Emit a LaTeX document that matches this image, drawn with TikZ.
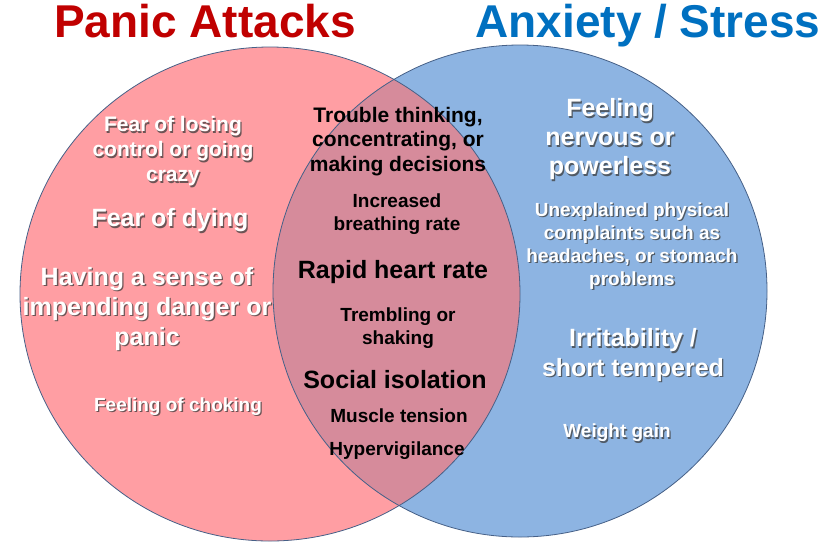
\documentclass[tikz,border=0pt]{standalone}
\usepackage{fontspec}
\setmainfont{Liberation Sans}
\definecolor{redfill}{RGB}{255,158,163}
\definecolor{bluefill}{RGB}{141,180,226}
\definecolor{lensfill}{RGB}{214,139,155}
\definecolor{edgec}{RGB}{70,96,135}
\definecolor{titlered}{RGB}{192,0,0}
\definecolor{titleblue}{RGB}{0,112,192}
\definecolor{shadowc}{RGB}{60,60,60}
\tikzset{
  txt/.style={inner sep=0pt, align=center},
  sz/.style n args={2}{font=\fontsize{#1}{#2}\selectfont\bfseries},
  wt/.style={txt, text=white},
  sh/.style={txt, text=shadowc, text opacity=0.75, xshift=1.3pt, yshift=-1.3pt},
  bt/.style={txt, text=black},
  title/.style={inner sep=0pt, anchor=base, font=\fontsize{46}{50}\selectfont\bfseries},
  circ/.style={draw=edgec, line width=0.8pt},
}
\newcommand\shadnode[4]{%
  \node[sh,#3] (#1s) at (#2) {#4};
  \node[wt,#3] (#1) at (#2) {#4};}
\begin{document}
\begin{tikzpicture}[x=1pt,y=-1pt]
\useasboundingbox (0,0) rectangle (827,550);
% circles
\fill[redfill] (270,294) ellipse [x radius=250pt, y radius=247pt];
\fill[bluefill] (520,291) ellipse [x radius=247pt, y radius=246pt];
\begin{scope}
  \clip (270,294) ellipse [x radius=250pt, y radius=247pt];
  \fill[lensfill] (520,291) ellipse [x radius=247pt, y radius=246pt];
\end{scope}
\draw[circ] (270,294) ellipse [x radius=250pt, y radius=247pt];
\draw[circ] (520,291) ellipse [x radius=247pt, y radius=246pt];
% titles
\node[title, text=titlered] (t1) at (205,37) {Panic Attacks};
\node[title, text=titleblue] (t2) at (648,37) {Anxiety / Stress};
% left
\shadnode{l1}{173,151.5}{sz={21}{25}}{Fear of losing\\control or going\\crazy}
\shadnode{l2}{170,220.5}{sz={25}{30}}{Fear of dying}
\shadnode{l3}{147,309}{sz={25}{30}}{Having a sense of\\impending danger or\\panic}
\shadnode{l4}{178,406.5}{sz={19}{23}}{Feeling of choking}
% middle
\node[bt,sz={21}{24.5}] (m1) at (398,141.5) {Trouble thinking,\\concentrating, or\\making decisions};
\node[bt,sz={19}{23}] (m2) at (397,214) {Increased\\breathing rate};
\node[bt,sz={25}{30}] (m3) at (393,272) {Rapid heart rate};
\node[bt,sz={19}{23}] (m4) at (398,328.5) {Trembling or\\shaking};
\node[bt,sz={25}{30}] (m5) at (395,379.5) {Social isolation};
\node[bt,sz={19}{23}] (m6) at (399,416) {Muscle tension};
\node[bt,sz={19}{23}] (m7) at (397,451) {Hypervigilance};
% right
\shadnode{r1}{610,139.5}{sz={25}{29}}{Feeling\\nervous or\\powerless}
\shadnode{r2}{632,246}{sz={19}{23}}{Unexplained physical\\complaints such as\\headaches, or stomach\\problems}
\shadnode{r3}{633,355}{sz={25}{29.5}}{Irritability /\\short tempered}
\shadnode{r4}{617,433}{sz={19}{23}}{Weight gain}
\end{tikzpicture}
\end{document}
